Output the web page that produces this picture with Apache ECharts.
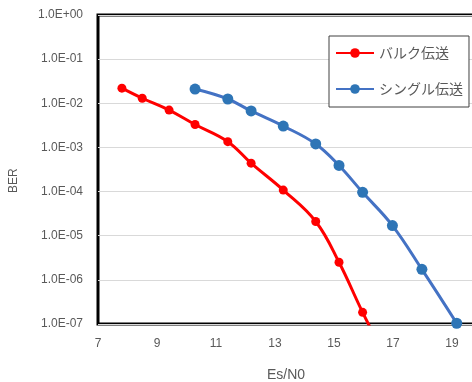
<!DOCTYPE html>
<html><head><meta charset="utf-8">
<script src="https://cdn.jsdelivr.net/npm/echarts@6/dist/echarts.min.js"></script>
<style>html,body{margin:0;padding:0;background:#fff}#c{width:472px;height:382px}</style>
</head><body><div id="c"></div>
<script>
const seriesNames = ['バルク伝送', 'シングル伝送'];
const xBulk = [7.81, 8.5, 9.41, 10.29, 11.4, 12.19, 13.28, 14.38, 15.17, 15.97, 16.8];
const berBulk = [2.2e-2, 1.3e-2, 7.0e-3, 3.3e-3, 1.35e-3, 4.4e-4, 1.08e-4, 2.1e-5, 2.5e-6, 1.84e-7, 1.5e-8];
const xSingle = [10.29, 11.4, 12.19, 13.28, 14.38, 15.17, 15.97, 16.98, 17.98, 19.16];
const berSingle = [2.1e-2, 1.25e-2, 6.7e-3, 3.05e-3, 1.2e-3, 3.9e-4, 9.6e-5, 1.7e-5, 1.73e-6, 1.04e-7];
const yTickLabels = ['1.0E+00','1.0E-01','1.0E-02','1.0E-03','1.0E-04','1.0E-05','1.0E-06','1.0E-07'];
const xAxisTitle = 'Es/N0';
const yAxisTitle = 'BER';

const chart = echarts.init(document.getElementById('c'));
const font = 'Liberation Sans, Arial, sans-serif';
const jp = '"Noto Sans CJK JP", sans-serif';
chart.setOption({
  animation: false,
  backgroundColor: '#fff',
  grid: { left: 98, top: 15, width: 413, height: 309, outerBoundsMode: 'none', containLabel: false, show: true, borderColor: '#000', borderWidth: 3, backgroundColor: 'transparent' },
  xAxis: {
    type: 'value', min: 7, max: 21, interval: 2,
    axisLine: { show: false }, axisTick: { show: false }, splitLine: { show: false },
    axisLabel: { color: '#595959', fontSize: 12, fontFamily: font, margin: 14 }
  },
  yAxis: {
    type: 'log', logBase: 10, min: 1e-7, max: 1,
    axisLine: { show: false }, axisTick: { show: false },
    splitLine: { show: true, lineStyle: { color: '#d9d9d9', width: 1 } },
    axisLabel: {
      color: '#595959', fontSize: 12, fontFamily: font, margin: 15,
      formatter: v => yTickLabels[-Math.round(Math.log10(v))]
    }
  },
  legend: {
    orient: 'vertical', left: 329, top: 36,
    padding: [9, 6, 10, 6], itemGap: 20, itemWidth: 38, itemHeight: 12, itemTextGap: 4,
    borderColor: '#404040', borderWidth: 1, backgroundColor: '#fff',
    textStyle: { color: '#595959', fontSize: 14, fontFamily: jp, lineHeight: 16 },
    data: seriesNames
  },
  graphic: [
    { type: 'text', left: 287 - 20, top: 368, style: { text: xAxisTitle, fill: '#595959', font: '14px ' + font } },
    { type: 'text', x: 8, y: 193, rotation: Math.PI / 2, style: { text: yAxisTitle, fill: '#595959', font: '12px ' + font } }
  ],
  series: [
    {
      name: seriesNames[0], type: 'line', smooth: 0.4, clip: true,
      data: xBulk.map((x, i) => [x, berBulk[i]]),
      symbol: 'circle', symbolSize: 9,
      lineStyle: { color: '#ff0000', width: 3 },
      itemStyle: { color: '#ff0000' }
    },
    {
      name: seriesNames[1], type: 'line', smooth: 0.4, clip: true,
      data: xSingle.map((x, i) => [x, berSingle[i]]),
      symbol: 'circle', symbolSize: 11,
      lineStyle: { color: '#4472c4', width: 3 },
      itemStyle: { color: '#2e75b6' }
    }
  ]
});
</script></body></html>
